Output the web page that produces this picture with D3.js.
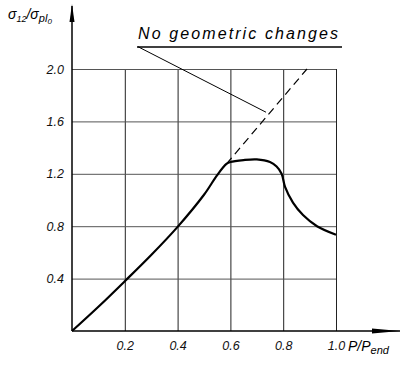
<!DOCTYPE html>
<html>
<head>
<meta charset="utf-8">
<script src="https://cdn.jsdelivr.net/npm/d3@7"></script>
<style>
  body { margin: 0; background: #fff; }
  svg { display: block; font-family: "Liberation Sans", Arial, sans-serif; }
  .axis text { font-style: italic; font-size: 12.5px; fill: #111; }
</style>
</head>
<body>
<script>
// размеры
const width = 419;
const height = 365;

// данные
const xTicks = [0.2, 0.4, 0.6, 0.8, 1.0];
const yTicks = [0.4, 0.8, 1.2, 1.6, 2.0];
const loadRatio = [0, 0.1, 0.2, 0.3, 0.4, 0.5, 0.55, 0.585, 0.6, 0.65, 0.7, 0.75, 0.775, 0.794, 0.807, 0.837, 0.875, 0.928, 1.0];
const stressRatio = [0, 0.185, 0.38, 0.58, 0.795, 1.04, 1.19, 1.275, 1.29, 1.305, 1.31, 1.29, 1.255, 1.20, 1.10, 0.98, 0.885, 0.80, 0.735];
const noGeoLoad = [0.585, 0.89];
const noGeoStress = [1.275, 2.0];
const noteText = 'No geometric changes';

let svg = d3.select('body')
    .append('svg')
    .attr('width', width)
    .attr('height', height);

// шкалы
let xScale = d3.scaleLinear().domain([0, 1]).range([72, 336]);
let yScale = d3.scaleLinear().domain([0, 2]).range([331, 69]);

// сетка + подписи по X
let xAxis = d3.axisBottom(xScale)
    .tickValues(xTicks)
    .tickSize(-(yScale(0) - yScale(2)))
    .tickPadding(10)
    .tickFormat(d3.format('.1f'));
svg.append('g')
    .classed('axis', true)
    .attr('transform', `translate(0,${yScale(0)})`)
    .call(xAxis)
    .call(g => g.select('.domain').remove())
    .call(g => g.selectAll('line').attr('stroke', '#222').attr('stroke-width', 1));

// сетка + подписи по Y
let yAxis = d3.axisLeft(yScale)
    .tickValues(yTicks)
    .tickSize(-(xScale(1) - xScale(0)))
    .tickPadding(8)
    .tickFormat(d3.format('.1f'));
svg.append('g')
    .classed('axis', true)
    .attr('transform', `translate(${xScale(0)},0)`)
    .call(yAxis)
    .call(g => g.select('.domain').remove())
    .call(g => g.selectAll('line').attr('stroke', '#555').attr('stroke-width', 1));

// оси со стрелками
svg.append('line')
    .attr('x1', xScale(0)).attr('y1', yScale(0))
    .attr('x2', xScale(0)).attr('y2', 6)
    .attr('stroke', '#000').attr('stroke-width', 1.5);
svg.append('path')
    .attr('d', `M${xScale(0)},4 L${xScale(0) - 2.5},22 L${xScale(0) + 2.5},22 Z`)
    .attr('fill', '#000');
svg.append('line')
    .attr('x1', xScale(0)).attr('y1', yScale(0))
    .attr('x2', 400).attr('y2', yScale(0))
    .attr('stroke', '#000').attr('stroke-width', 1.5);
svg.append('path')
    .attr('d', `M400,${yScale(0)} L372,${yScale(0) - 2.5} L372,${yScale(0) + 2.5} Z`)
    .attr('fill', '#000');

// подпись оси X: P/P_end
let xLabel = svg.append('text')
    .attr('x', 348)
    .attr('y', 351)
    .style('font-style', 'italic')
    .style('font-size', '14px');
xLabel.append('tspan').text('P/P');
xLabel.append('tspan').attr('dy', 3).style('font-size', '11px').text('end');

// подпись оси Y: σ12/σpl0
let yLabel = svg.append('text')
    .attr('x', 8)
    .attr('y', 19)
    .style('font-style', 'italic')
    .style('font-size', '14px');
yLabel.append('tspan').text('σ');
yLabel.append('tspan').attr('dy', 3).style('font-size', '9px').text('12');
yLabel.append('tspan').attr('dy', -3).text('/σ');
yLabel.append('tspan').attr('dy', 3).style('font-size', '11px').text('pl');
yLabel.append('tspan').attr('dy', 2).style('font-size', '8px').text('0');

// пунктир без изменения геометрии
let line = d3.line()
    .x(d => xScale(d[0]))
    .y(d => yScale(d[1]));
svg.append('path')
    .datum(d3.zip(noGeoLoad, noGeoStress))
    .attr('d', line)
    .attr('fill', 'none')
    .attr('stroke', '#000')
    .attr('stroke-width', 1.2)
    .attr('stroke-dasharray', '8,5');

// основная кривая
svg.append('path')
    .datum(d3.zip(loadRatio, stressRatio))
    .attr('d', line.curve(d3.curveCatmullRom.alpha(0.5)))
    .attr('fill', 'none')
    .attr('stroke', '#000')
    .attr('stroke-width', 2.2);

// надпись с выноской
svg.append('text')
    .attr('x', 138)
    .attr('y', 39)
    .attr('textLength', 200)
    .attr('lengthAdjust', 'spacing')
    .style('font-style', 'italic')
    .style('font-size', '16px')
    .text(noteText);
svg.append('line')
    .attr('x1', 137).attr('y1', 47)
    .attr('x2', 342).attr('y2', 47)
    .attr('stroke', '#000').attr('stroke-width', 1.3);
svg.append('line')
    .attr('x1', xScale(0.25)).attr('y1', yScale(2.17))
    .attr('x2', xScale(0.735)).attr('y2', yScale(1.67))
    .attr('stroke', '#000').attr('stroke-width', 1);
</script>
</body>
</html>
